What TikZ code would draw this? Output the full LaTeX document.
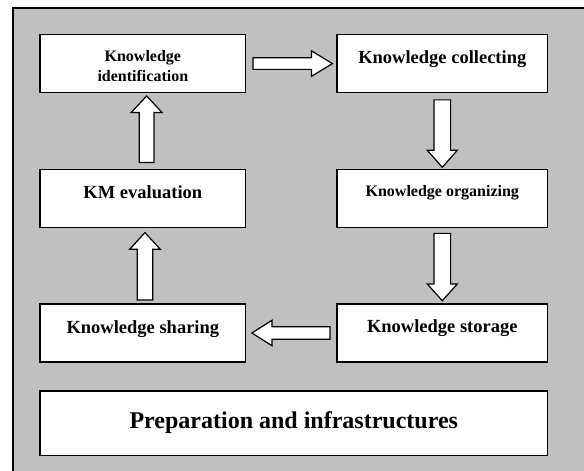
\documentclass[tikz,border=0pt]{standalone}
\usepackage{fontspec}
\setmainfont{Liberation Serif}
\usetikzlibrary{calc}
\definecolor{bggray}{RGB}{192,192,192}
\begin{document}
\begin{tikzpicture}[x=1bp,y=-1bp,
  box/.style={draw=black,fill=white,line width=1.4bp,rectangle,inner sep=0pt},
  colbox/.style={box,minimum width=205.7bp,minimum height=58bp},
  rcolbox/.style={box,minimum width=210.8bp,minimum height=58bp},
  barrow/.style={draw=black,fill=white,line width=1.2bp,line join=miter},
  btxt/.style={font=\fontsize{18.5bp}{21bp}\selectfont\bfseries},
  stxt/.style={font=\fontsize{16bp}{20bp}\selectfont\bfseries,align=center},
  ptxt/.style={font=\fontsize{24bp}{28bp}\selectfont\bfseries}]
\clip (0,0) rectangle (584,471);
\fill[white] (0,0) rectangle (584,471);
\draw[fill=bggray,line width=1.4bp] (13,8) rectangle (600,490);

\node[colbox,label={[stxt,yshift=-2bp]center:Knowledge\\identification}] (id) at (142.85,63.6) {};
\node[rcolbox,label={[btxt,yshift=4bp]center:Knowledge collecting}] (coll) at (442.3,63.6) {};
\node[colbox,label={[btxt,yshift=6bp]center:KM evaluation}] (eval) at (142.85,198.3) {};
\node[rcolbox,label={[stxt,yshift=6bp]center:Knowledge organizing}] (org) at (442.3,198.3) {};
\node[colbox,label={[btxt,yshift=4bp]center:Knowledge sharing}] (share) at (142.85,333) {};
\node[rcolbox,label={[btxt,yshift=5bp]center:Knowledge storage}] (stor) at (442.3,333) {};
\node[box,minimum width=507.6bp,minimum height=64.5bp,label={[ptxt,yshift=1bp]center:Preparation and infrastructures}] (prep) at (293.8,423.25) {};

% id -> coll
\draw[barrow] ($(id.east)+(6.6,-5.8)$) -- ++(58.4,0) -- ++(0,-7) -- ++(21,12.8)
  -- ++(-21,12.8) -- ++(0,-7) -- ++(-58.4,0) -- cycle;
% coll -> org
\draw[barrow] ($(coll.south)+(-8.3,6.6)$) -- ++(0,50.4) -- ++(-6.7,0) -- ++(15,17)
  -- ++(15,-17) -- ++(-6.7,0) -- ++(0,-50.4) -- cycle;
% org -> stor
\draw[barrow] ($(org.south)+(-8.3,5.4)$) -- ++(0,50.6) -- ++(-6.7,0) -- ++(15,16.7)
  -- ++(15,-16.7) -- ++(-6.7,0) -- ++(0,-50.6) -- cycle;
% stor -> share
\draw[barrow] ($(stor.west)+(-6.3,-6.3)$) -- ++(-58,0) -- ++(0,-6.4) -- ++(-20,12.7)
  -- ++(20,12.7) -- ++(0,-6.4) -- ++(58,0) -- cycle;
% share -> eval
\draw[barrow] ($(share.north)+(-5.6,-3.3)$) -- ++(0,-50.7) -- ++(-7.6,0) -- ++(15.3,-16.7)
  -- ++(15.3,16.7) -- ++(-7.6,0) -- ++(0,50.7) -- cycle;
% eval -> id
\draw[barrow] ($(eval.north)+(-3.55,-6)$) -- ++(0,-50) -- ++(-8.15,0) -- ++(15.5,-16.6)
  -- ++(15.5,16.6) -- ++(-8.15,0) -- ++(0,50) -- cycle;
\end{tikzpicture}
\end{document}
